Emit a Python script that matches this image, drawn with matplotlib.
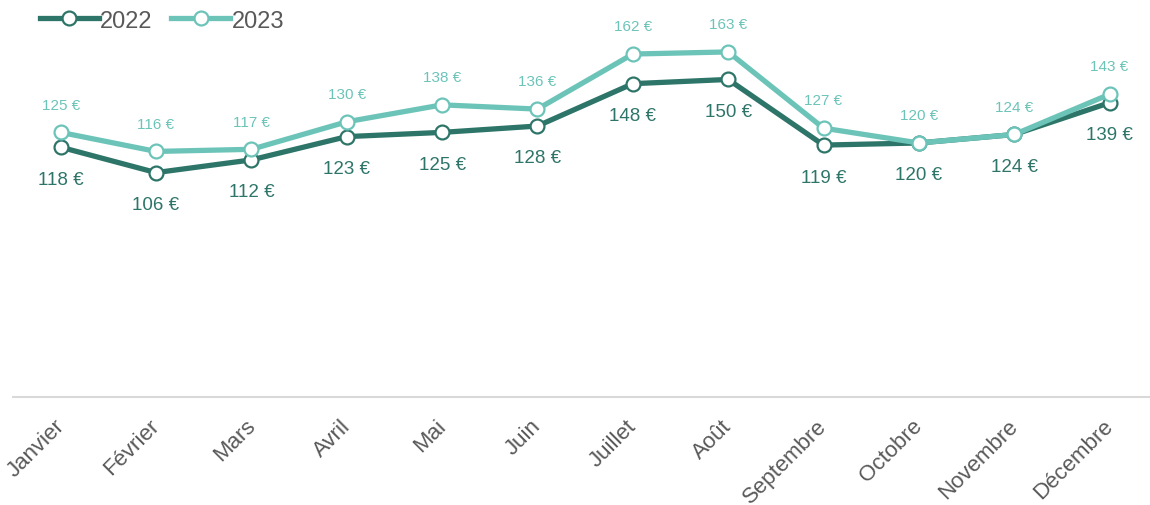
import numpy as np
import matplotlib.pyplot as plt
from matplotlib.transforms import ScaledTranslation

plt.rcParams['font.family'] = ['Liberation Sans', 'DejaVu Sans']

mois = ["Janvier", "Février", "Mars", "Avril", "Mai", "Juin", "Juillet",
        "Août", "Septembre", "Octobre", "Novembre", "Décembre"]
prix_2022 = [118, 106, 112, 123, 125, 128, 148, 150, 119, 120, 124, 139]
prix_2023 = [125, 116, 117, 130, 138, 136, 162, 163, 127, 120, 124, 143]

dark = "#2e7569"
light = "#6cc4b9"
grey_txt = "#595959"

fig = plt.figure(figsize=(11.5, 5.06), dpi=100)
ax = fig.add_axes([0.0113, 0.2134, 0.995, 0.7866])

x = np.arange(len(mois))
ax.plot(x, prix_2022, color=dark, lw=3.8, marker="o", ms=10, mfc="white",
        mec=dark, mew=1.6, label="2022", zorder=3)
ax.plot(x, prix_2023, color=light, lw=3.8, marker="o", ms=10, mfc="white",
        mec=light, mew=1.6, label="2023", zorder=4)

for xi, v in zip(x, prix_2022):
    ax.annotate(f"{v} €", (xi, v), xytext=(0, -23), textcoords="offset points",
                ha="center", va="center", fontsize=13.5, color=dark)
for xi, v in zip(x, prix_2023):
    ax.annotate(f"{v} €", (xi, v), xytext=(0, 20), textcoords="offset points",
                ha="center", va="center", fontsize=11, color=light)

ax.set_xlim(-0.5, 11.5)
ax.set_ylim(0, 188)
ax.set_xticks(x)
ax.set_xticklabels(mois, rotation=45, ha="right", va="top", rotation_mode="anchor",
                   fontsize=16, color=grey_txt)
ax.tick_params(axis="x", length=0, pad=13)
shift = ScaledTranslation(-5 / 72, 0, fig.dpi_scale_trans)
for lab in ax.get_xticklabels():
    lab.set_transform(lab.get_transform() + shift)
ax.set_yticks([])
for s in ["top", "right", "left"]:
    ax.spines[s].set_visible(False)
ax.spines["bottom"].set_color("#d9d9d9")
ax.spines["bottom"].set_linewidth(1.5)

leg = ax.legend(loc="upper left", bbox_to_anchor=(0.015, 0.997), ncol=2, frameon=False,
                fontsize=17, handlelength=2.5, handletextpad=0.05, columnspacing=0.8,
                borderaxespad=0)
for t in leg.get_texts():
    t.set_color(grey_txt)

fig.savefig("out.png", dpi=100)
